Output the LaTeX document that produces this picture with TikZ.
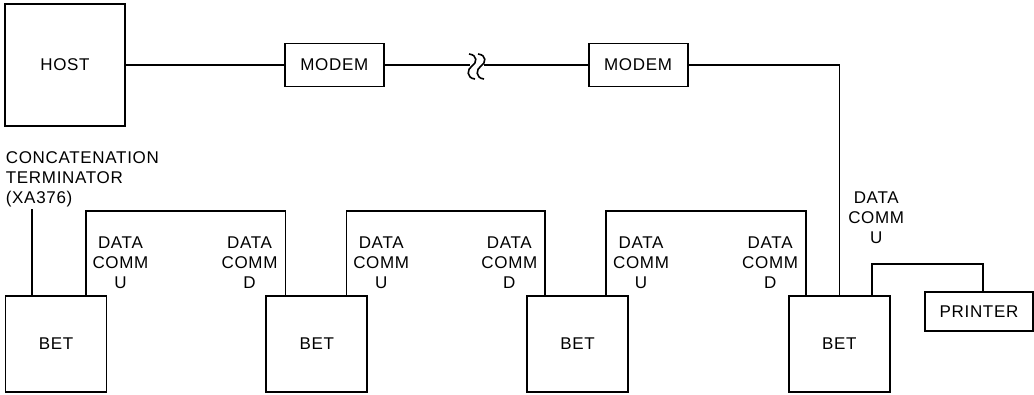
\documentclass[tikz,border=0pt]{standalone}
\usepackage{fontspec}
\setmainfont{Liberation Sans}[LetterSpace=4]
\usetikzlibrary{positioning}

\begin{document}
\begin{tikzpicture}[x=1pt, y=-1pt, line width=1.8pt,
  every node/.style={font=\fontsize{17}{20}\selectfont},
  bet/.style={draw, minimum width=101pt, minimum height=96pt},
  modem/.style={draw, minimum width=99pt, minimum height=43pt},
  lbl/.style={align=center, inner sep=0pt}]
  \useasboundingbox (0,0) rectangle (1034,394);

  % Host side
  \node[draw, minimum width=120pt, minimum height=122pt] (host) at (65,65) {HOST};
  \node[modem] (modem1) [right=158pt of host] {MODEM};
  \node[modem] (modem2) [right=203pt of modem1] {MODEM};
  \coordinate (brkL) at (470,65);
  \coordinate (brkR) at (484,65);

  \draw (host) -- (modem1);
  \draw (modem1) -- (brkL);
  \draw (brkR) -- (modem2);
  \foreach \sx in {472,481}
    \draw[line width=1.6pt] (\sx-3,54) .. controls (\sx+6,55) and (\sx+5,63) .. (\sx,66)
      .. controls (\sx-5,69) and (\sx-6,78) .. (\sx+3,79);

  % Terminals
  \node[bet] (bet1) at (56,344) {BET};
  \node[bet] (bet2) [right=158pt of bet1] {BET};
  \node[bet] (bet3) [right=158pt of bet2] {BET};
  \node[bet] (bet4) [right=159pt of bet3] {BET};
  \node[draw, minimum width=108pt, minimum height=39pt] (printer) at (979,311.5) {PRINTER};

  \draw (modem2.east) -| (bet4.north);
  \node[lbl, above right=51pt and 8pt of bet4.north] {DATA\\COMM\\U};

  % Concatenation terminator
  \node[lbl, align=left, anchor=south west] (term) at (5,208) {CONCATENATION\\TERMINATOR\\(XA376)};
  \coordinate (t1) at ([xshift=27pt]bet1.north west);
  \draw (t1) -- ++(0,-86);

  % Data comm links
  \coordinate (u1) at ([xshift=81pt]bet1.north west);
  \coordinate (d1) at ([xshift=20pt]bet2.north west);
  \coordinate (u2) at ([xshift=81pt]bet2.north west);
  \coordinate (d2) at ([xshift=19pt]bet3.north west);
  \coordinate (u3) at ([xshift=80pt]bet3.north west);
  \coordinate (d3) at ([xshift=18pt]bet4.north west);
  \foreach \a/\b in {u1/d1, u2/d2, u3/d3} {
    \draw (\a) -- ++(0,-84) -| (\b);
    \node[lbl, above right=6pt and 6pt of \a] {DATA\\COMM\\U};
    \node[lbl, above left=6pt and 7pt of \b] {DATA\\COMM\\D};
  }

  % Printer
  \coordinate (p1) at ([xshift=84pt]bet4.north west);
  \draw (p1) -- ++(0,-31) -| ([xshift=4pt]printer.north);
\end{tikzpicture}
\end{document}
